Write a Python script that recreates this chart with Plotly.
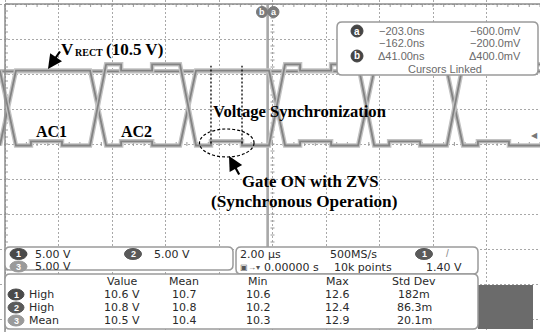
import plotly.graph_objects as go

# ---------------- values ----------------
# time in microseconds (2 us/div), voltage in volts (5 V/div)
vrect_t = [-10.19, 10.0]
vrect_v = [10.6, 10.6]

ac1_t = [-10.19, -9.59, -9.03, -9.03, -7.87, -7.87, -6.82, -6.22, -5.66, -5.66,
         -4.50, -4.50, -3.46, -2.86, -2.30, -2.30, -1.14, -1.14, -0.13, 0.47,
         1.03, 1.03, 2.19, 2.19, 3.20, 3.80, 4.36, 4.36, 5.52, 5.52,
         6.52, 7.12, 7.68, 7.68, 8.84, 8.84, 10.0]
ac1_v = [10.7, 0.0, 0.0, 0.6, 0.6, 0.0, 0.0, 11.6, 11.6, 10.7,
         10.7, 11.6, 11.6, 0.0, 0.0, 0.6, 0.6, 0.0, 0.0, 11.6,
         11.6, 10.7, 10.7, 11.6, 11.6, 0.0, 0.0, 0.6, 0.6, 0.0,
         0.0, 11.6, 11.6, 10.7, 10.7, 11.6, 11.6]

ac2_t = [-10.19, -9.59, -6.82, -6.22, -5.66, -5.66, -4.50, -4.50, -3.46, -2.86,
         -0.13, 0.47, 1.03, 1.03, 2.19, 2.19, 3.20, 3.80, 6.52, 7.12,
         7.68, 7.68, 8.84, 8.84, 10.0]
ac2_v = [0.0, 10.7, 10.7, 0.0, 0.0, 0.6, 0.6, 0.0, 0.0, 10.7,
         10.7, 0.0, 0.0, 0.6, 0.6, 0.0, 0.0, 10.7, 10.7, 0.0,
         0.0, 0.6, 0.6, 0.0, 0.0]

# cursors / trigger (from the readouts)
cursor_a_us = -0.203
cursor_b_us = -0.162
trigger_level_v = 1.40
sync_window_us = [-2.30, -1.14]          # dotted markers of the synchronous step
gate_ellipse_us = [-2.73, -0.69]
gate_ellipse_v = [-1.64, 2.36]

cur_time = ["\u2212203.0ns", "\u2212162.0ns", "\u039441.00ns"]
cur_volt = ["\u2212600.0mV", "\u2212200.0mV", "\u0394400.0mV"]

ch_scales = ["5.00 V", "5.00 V", "5.00 V"]
timebase = "2.00 \u00b5s"
sample_rate = "500MS/s"
delay = "0.00000 s"
record = "10k points"
trig_readout = "1.40 V"

meas_headers = ["Value", "Mean", "Min", "Max", "Std Dev"]
meas_ch = ["1", "2", "3"]
meas_names = ["High", "High", "Mean"]
meas_value = ["10.6 V", "10.8 V", "10.5 V"]
meas_mean = ["10.7", "10.8", "10.4"]
meas_min = ["10.6", "10.2", "10.3"]
meas_max = ["12.6", "12.4", "12.9"]
meas_std = ["182m", "86.3m", "20.1m"]

# ---------------- screen geometry ----------------
W, H = 540, 332
PX_PER_US = 26.75
CENTER_PX = 272.5
GROUND_PY = 145.5
PX_PER_V = 7.0
GRAT_TOP = 4.0

x_lo = (0 - CENTER_PX) / PX_PER_US
x_hi = (W - CENTER_PX) / PX_PER_US
y_hi = GROUND_PY / PX_PER_V
y_lo = (GROUND_PY - H) / PX_PER_V
grid_v0 = (GROUND_PY - 144.0) / PX_PER_V


def X(px):
    return px / W


def Y(py):
    return 1 - py / H


def dv(py):
    return (GROUND_PY - py) / PX_PER_V


SANS = "Liberation Sans, Arial, sans-serif"
PANEL = "DejaVu Sans, Liberation Sans, sans-serif"
SERIF = "Liberation Serif, Times New Roman, serif"
GRID = "#a8a8a8"
PTXT = "#2a2a2a"
PSIZE = 11

fig = go.Figure()

# graticule minor ticks (center cross + frame)
tx, ty = [], []
for k in range(-20, 21):
    v = grid_v0 + k * 1.0
    if y_lo < v < y_hi:
        tx += [-2 / PX_PER_US, 2 / PX_PER_US, None]
        ty += [v, v, None]
        tx += [-10, -10 + 3 / PX_PER_US, None]
        ty += [v, v, None]
for k in range(-25, 26):
    t = k * 0.4
    tx += [t, t, None]
    ty += [grid_v0 - 2 / PX_PER_V, grid_v0 + 2 / PX_PER_V, None]
    tx += [t, t, None]
    ty += [dv(GRAT_TOP), dv(GRAT_TOP + 3), None]
fig.add_trace(go.Scatter(x=tx, y=ty, mode="lines", line=dict(color="#9a9a9a", width=1),
                         hoverinfo="skip"))

HALO, CORE = "#c2c2c2", "#838383"
for tt, vv in [(vrect_t, vrect_v), (ac2_t, ac2_v), (ac1_t, ac1_v)]:
    fig.add_trace(go.Scatter(x=tt, y=vv, mode="lines", line=dict(color=HALO, width=4.5),
                             hoverinfo="skip"))
    fig.add_trace(go.Scatter(x=tt, y=vv, mode="lines", line=dict(color=CORE, width=1.8),
                             hoverinfo="skip"))

shapes = []
# frame
shapes.append(dict(type="line", xref="paper", yref="paper", x0=X(5), x1=X(540),
                   y0=Y(GRAT_TOP), y1=Y(GRAT_TOP), line=dict(color="#8c8c8c", width=1.5)))
shapes.append(dict(type="line", xref="paper", yref="paper", x0=X(5), x1=X(5),
                   y0=Y(GRAT_TOP), y1=Y(332), line=dict(color="#8c8c8c", width=1.5)))
# cursors
for c in [cursor_a_us, cursor_b_us]:
    shapes.append(dict(type="line", xref="x", yref="y", x0=c, x1=c, y0=dv(GRAT_TOP),
                       y1=dv(284), layer="between", line=dict(color="#9a9a9a", width=1.3)))
# synchronization markers
for s in sync_window_us:
    shapes.append(dict(type="line", xref="x", yref="y", x0=s, x1=s, y0=0.3, y1=11.4,
                       line=dict(color="black", width=1.3, dash="2px,2px")))
shapes.append(dict(type="circle", xref="x", yref="y", x0=gate_ellipse_us[0],
                   x1=gate_ellipse_us[1], y0=gate_ellipse_v[0], y1=gate_ellipse_v[1],
                   line=dict(color="black", width=1.2, dash="3px,2px")))


def rrect(x0, y0, x1, y1, r, fill="white", line="#9a9a9a", lw=1.5):
    rx, ry = r / W, r / H
    a0, a1, b0, b1 = X(x0), X(x1), Y(y0), Y(y1)
    p = (f"M {a0+rx},{b0} L {a1-rx},{b0} Q {a1},{b0} {a1},{b0-ry} "
         f"L {a1},{b1+ry} Q {a1},{b1} {a1-rx},{b1} L {a0+rx},{b1} "
         f"Q {a0},{b1} {a0},{b1+ry} L {a0},{b0-ry} Q {a0},{b0} {a0+rx},{b0} Z")
    return dict(type="path", xref="paper", yref="paper", path=p, fillcolor=fill,
                line=dict(color=line, width=lw), layer="above")


shapes.append(rrect(337, 22, 538, 75, 5))
shapes.append(dict(type="rect", xref="paper", yref="paper", x0=X(478), x1=X(533),
                   y0=Y(285), y1=Y(329), fillcolor="#6b6b6b", line=dict(width=0)))
shapes.append(rrect(5, 247, 233, 270, 5))
shapes.append(rrect(236, 247, 478, 274, 5))
shapes.append(rrect(5, 274, 478, 329, 5))

annotations = []


def ann(text, px, py, size, family=SANS, color=PTXT, xanchor="left"):
    annotations.append(dict(text=text, x=X(px), y=Y(py), xref="paper", yref="paper",
                            xanchor=xanchor, yanchor="middle", showarrow=False,
                            font=dict(family=family, size=size, color=color)))


def badge(label, cx, cy, fill, w=17, h=11, color="white", size=9):
    shapes.append(dict(type="circle", xref="paper", yref="paper", x0=X(cx - w / 2),
                       x1=X(cx + w / 2), y0=Y(cy + h / 2), y1=Y(cy - h / 2),
                       fillcolor=fill, line=dict(color=fill, width=1), layer="above"))
    ann("<b>" + label + "</b>", cx, cy, size, color=color, xanchor="center")


# cursor labels at the top
badge("b", 262, 12, "#7a7a7a", w=11, h=11, size=9)
badge("a", 273.5, 12, "#7a7a7a", w=11, h=11, size=9)

# trigger level marker
annotations.append(dict(text="\u25c0", x=X(540), y=trigger_level_v, xref="paper", yref="y",
                        xanchor="right", yanchor="middle", showarrow=False,
                        font=dict(family=SANS, size=8, color="#777777")))

# cursor readout
badge("a", 357, 31, "#454545", w=12, h=12, size=10)
badge("b", 357, 56, "#454545", w=12, h=12, size=10)
for i, py in enumerate([31, 43.5, 56]):
    ann(cur_time[i], 427, py, 11, color="#6a6a6a", xanchor="right")
    ann(cur_volt[i], 523, py, 11, color="#6a6a6a", xanchor="right")
ann("Cursors Linked", 445, 69, 11, color="#6a6a6a", xanchor="center")

# waveform annotations
ann("<b>V</b>", 59, 49.5, 17, family=SERIF, color="black")
ann("<b>RECT</b>", 72.5, 53, 10, family=SERIF, color="black")
ann("<b>(10.5 V)</b>", 104, 49.5, 17, family=SERIF, color="black")
ann("<b>AC1</b>", 34, 131.5, 16, family=SERIF, color="black")
ann("<b>AC2</b>", 119, 131.5, 16, family=SERIF, color="black")
ann("<b>Voltage Synchronization</b>", 211, 111.5, 16.6, family=SERIF, color="black")
ann("<b>Gate ON with ZVS</b>", 240, 181.5, 16.8, family=SERIF, color="black")
ann("<b>(Synchronous Operation)</b>", 209, 201.5, 17.2, family=SERIF, color="black")
for tip, tail in [((48, 69), (61, 50)), ((229, 156), (240, 176))]:
    annotations.append(dict(text="", x=X(tip[0]), y=Y(tip[1]), xref="paper", yref="paper",
                            ax=tail[0] - tip[0], ay=tail[1] - tip[1], showarrow=True,
                            arrowhead=2, arrowsize=1.3, arrowwidth=2.2, arrowcolor="black",
                            standoff=0))

# channel scale box
badge("1", 18.5, 254, "#4a4a4a")
ann(ch_scales[0], 33, 254, PSIZE, family=PANEL)
badge("2", 133, 254, "#5a5a5a")
ann(ch_scales[1], 152, 254, PSIZE, family=PANEL)
badge("3", 18.5, 266.5, "#9a9a9a")
ann(ch_scales[2], 33, 266.5, PSIZE, family=PANEL)

# timebase box
ann(timebase, 238, 254.5, PSIZE, family=PANEL)
ann(sample_rate, 328, 254.5, PSIZE, family=PANEL)
badge("1", 424, 254, "#5a5a5a")
ann("/", 444, 253, 10, color="#888888")
ann("\u25a3\u2192\u25be", 238, 267.5, 8, color="#555555")
ann(delay, 262, 267.5, PSIZE, family=PANEL)
ann(record, 332, 267.5, PSIZE, family=PANEL)
ann(trig_readout, 424, 267.5, PSIZE, family=PANEL)

# measurement box
col_x = [122, 184, 258, 337, 414]
for h, cx in zip(meas_headers, col_x):
    ann(h, cx, 281.5, PSIZE, family=PANEL, xanchor="center")
badge_fill = ["#4a4a4a", "#5a5a5a", "#9a9a9a"]
for i, py in enumerate([294.5, 307.5, 320.5]):
    badge(meas_ch[i], 16, py, badge_fill[i], w=16, h=11)
    ann(meas_names[i], 27, py, PSIZE, family=PANEL)
    for vals, cx in zip([meas_value, meas_mean, meas_min, meas_max, meas_std], col_x):
        ann(vals[i], cx, py, PSIZE, family=PANEL, xanchor="center")

fig.update_layout(
    width=W, height=H, margin=dict(l=0, r=0, t=0, b=0),
    paper_bgcolor="white", plot_bgcolor="white", showlegend=False,
    xaxis=dict(range=[x_lo, x_hi], showgrid=True, dtick=2, tick0=0, gridcolor=GRID,
               griddash="2px,2px", gridwidth=1, zeroline=False, showticklabels=False,
               ticks="", showline=False, fixedrange=True),
    yaxis=dict(range=[y_lo, y_hi], showgrid=True, dtick=5, tick0=grid_v0, gridcolor=GRID,
               griddash="2px,2px", gridwidth=1, zeroline=False, showticklabels=False,
               ticks="", showline=False, fixedrange=True),
    shapes=shapes, annotations=annotations,
)

fig.write_html("out.html")
